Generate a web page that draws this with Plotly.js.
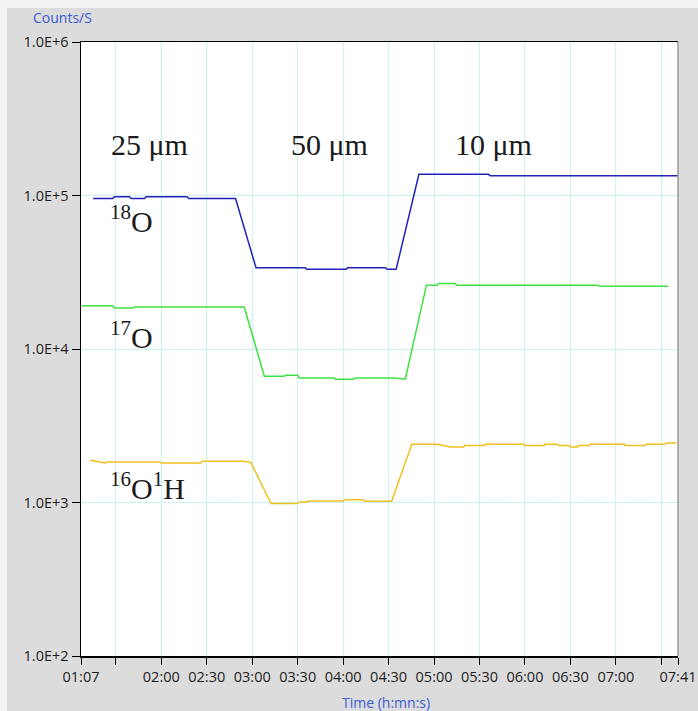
<!DOCTYPE html>
<html>
<head>
<meta charset="utf-8">
<script src="https://cdn.plot.ly/plotly-3.0.1.min.js"></script>
<style>html,body{margin:0;padding:0;background:#dcdcdc;}#chart{width:698px;height:711px;}</style>
</head>
<body>
<div id="chart"></div>
<script>
// Time in seconds from start of acquisition (axis shows h:mn:s as mm:ss)
var o18Time = [75, 88, 89, 99, 100, 109, 110, 137, 138, 169, 182.5, 215, 216, 242, 243, 268, 269, 275, 290, 336, 337, 461];
var o18Counts = [95700, 95700, 98300, 98300, 95700, 95700, 98300, 98300, 95700, 95700, 33800, 33800, 33100, 33100, 33800, 33800, 33100, 33100, 137300, 137300, 134300, 134300];

var o17Time = [67.5, 88, 89, 101, 102, 174.7, 188, 201, 202, 210, 211, 234, 235, 247, 248, 274, 281, 295, 302, 303, 314, 315, 408, 409, 454.5];
var o17Counts = [19100, 19100, 18530, 18530, 18800, 18800, 6650, 6650, 6750, 6750, 6480, 6480, 6360, 6360, 6480, 6480, 6360, 26060, 26060, 26700, 26700, 26060, 26060, 25640, 25640];

var ohTime = [73, 83, 84, 119, 120, 146, 147, 173.6, 179, 192.4, 210, 211, 216.8, 217, 240, 241, 253, 254, 271, 272, 285.3, 302, 310.7, 319.6, 320, 333, 334, 359.5, 360, 372.7, 373, 381.5, 382, 389.3, 390, 394.8, 395, 402.6, 403, 425.8, 426, 439, 440, 452.3, 453, 460];
var ohCounts = [1884, 1809, 1836, 1836, 1809, 1809, 1857, 1857, 1830, 984, 984, 1008, 1008, 1023, 1023, 1044, 1044, 1018, 1018, 1018, 2395, 2395, 2300, 2300, 2350, 2350, 2395, 2395, 2350, 2350, 2395, 2395, 2350, 2350, 2300, 2300, 2350, 2350, 2395, 2395, 2350, 2350, 2395, 2395, 2443, 2443];

var xTickVals = [67, 90, 120, 150, 180, 210, 240, 270, 300, 330, 360, 390, 420, 450, 461];
var xTickText = ['01:07', '', '02:00', '02:30', '03:00', '03:30', '04:00', '04:30', '05:00', '05:30', '06:00', '06:30', '07:00', '', '07:41'];
var yTickVals = [100, 1000, 10000, 100000, 1000000];
var yTickText = ['1.0E+2', '1.0E+3', '1.0E+4', '1.0E+5', '1.0E+6'];

var apertureLabels = ['25 μm', '50 μm', '10 μm'];
var speciesLabels = ['<sup>18</sup>O', '<sup>17</sup>O', '<sup>16</sup>O<sup>1</sup>H'];

var L = 81, T = 42, W = 597, H = 614;
function px(x) { return (x - L) / W; }
function py(y) { return (T + H - y) / H; }

var traces = [
  {x: o18Time, y: o18Counts, mode: 'lines', line: {color: '#2222b8', width: 1.5}, hoverinfo: 'skip'},
  {x: o17Time, y: o17Counts, mode: 'lines', line: {color: '#3ee23e', width: 1.5}, hoverinfo: 'skip'},
  {x: ohTime, y: ohCounts, mode: 'lines', line: {color: '#f0c01e', width: 1.5}, hoverinfo: 'skip'}
];

var serif = {family: '"Liberation Serif", "Times New Roman", serif', size: 30, color: '#1a1a1a'};
var blueFont = {family: '"Open Sans", "Noto Sans", sans-serif', size: 14, color: '#3a5ad6'};

var annotations = [
  {text: apertureLabels[0], x: px(149.5), y: py(145), xref: 'paper', yref: 'paper', showarrow: false, font: serif, xanchor: 'center', yanchor: 'middle'},
  {text: apertureLabels[1], x: px(329.5), y: py(145), xref: 'paper', yref: 'paper', showarrow: false, font: serif, xanchor: 'center', yanchor: 'middle'},
  {text: apertureLabels[2], x: px(493), y: py(145), xref: 'paper', yref: 'paper', showarrow: false, font: serif, xanchor: 'center', yanchor: 'middle'},
  {text: speciesLabels[0], x: px(108), y: py(219), xref: 'paper', yref: 'paper', showarrow: false, font: serif, xanchor: 'left', yanchor: 'middle'},
  {text: speciesLabels[1], x: px(108), y: py(335), xref: 'paper', yref: 'paper', showarrow: false, font: serif, xanchor: 'left', yanchor: 'middle'},
  {text: speciesLabels[2], x: px(108), y: py(486), xref: 'paper', yref: 'paper', showarrow: false, font: serif, xanchor: 'left', yanchor: 'middle'},
  {text: 'Counts/S', x: px(62), y: py(18), xref: 'paper', yref: 'paper', showarrow: false, font: blueFont, xanchor: 'center', yanchor: 'middle'},
  {text: 'Time (h:mn:s)', x: px(386), y: py(702), xref: 'paper', yref: 'paper', showarrow: false, font: blueFont, xanchor: 'center', yanchor: 'middle'}
];

var shapes = [
  {type: 'rect', xref: 'paper', yref: 'paper', x0: px(0), x1: px(698), y0: py(8), y1: py(0), fillcolor: '#f3f3f3', line: {width: 0}, layer: 'below'},
  {type: 'rect', xref: 'paper', yref: 'paper', x0: px(0), x1: px(7), y0: py(711), y1: py(0), fillcolor: '#f3f3f3', line: {width: 0}, layer: 'below'},
  {type: 'line', xref: 'paper', yref: 'paper', x0: 1, x1: 1, y0: 0, y1: 1, line: {color: '#9a9a9a', width: 1.5}}
];

var layout = {
  width: 698, height: 711,
  margin: {l: L, r: 698 - L - W, t: T, b: 711 - T - H, pad: 0},
  paper_bgcolor: '#dcdcdc',
  plot_bgcolor: '#ffffff',
  showlegend: false,
  font: {family: '"Open Sans", "Noto Sans", sans-serif', size: 14, color: '#1e1e1e'},
  xaxis: {
    range: [67, 461], tickmode: 'array', tickvals: xTickVals, ticktext: xTickText,
    showgrid: true, gridcolor: '#c9f3f3', gridwidth: 1, zeroline: false,
    showline: true, linecolor: '#000000', linewidth: 1.5, mirror: true,
    ticks: 'outside', ticklen: 7, tickcolor: '#000000', tickwidth: 1,
    tickfont: {size: 14.5, color: '#1e1e1e'}
  },
  yaxis: {
    type: 'log', range: [2, 6], tickmode: 'array', tickvals: yTickVals, ticktext: yTickText,
    showgrid: true, gridcolor: '#c9f3f3', gridwidth: 1, zeroline: false,
    showline: true, linecolor: '#000000', linewidth: 1.5,
    ticks: 'outside', ticklen: 8, tickcolor: '#000000', tickwidth: 1,
    tickfont: {size: 14.5, color: '#1e1e1e'}
  },
  annotations: annotations,
  shapes: shapes
};

Plotly.newPlot('chart', traces, layout, {staticPlot: true, displayModeBar: false});
</script>
</body>
</html>
